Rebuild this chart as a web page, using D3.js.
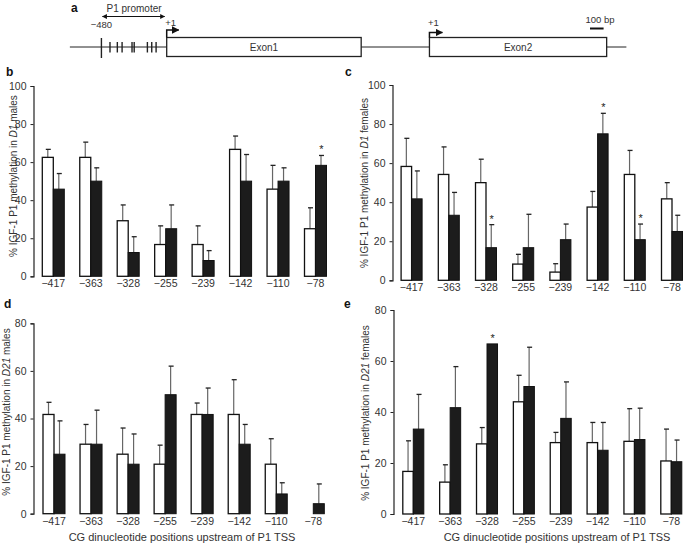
<!DOCTYPE html>
<html><head><meta charset="utf-8">
<script src="https://cdn.jsdelivr.net/npm/d3@7"></script>
<style>
body{margin:0;background:#fff}
text{font-family:"Liberation Sans",Arial,sans-serif;fill:#333}
</style>
</head><body><svg id="chart" width="685" height="544"></svg>
<script>
// ---- data ----
const positions = ["\u2212417","\u2212363","\u2212328","\u2212255","\u2212239","\u2212142","\u2212110","\u221278"];
const cpgSites = [-417,-363,-328,-255,-239,-142,-110,-78];

const d1MalesWhite    = [62.5,62.5,29.2,16.7,16.7,66.7,45.8,25];
const d1MalesWhiteSE  = [4.2,8,8.3,9.8,9.8,7,12.5,11];
const d1MalesBlack    = [45.8,50,12.5,25,8.3,50,50,58.3];
const d1MalesBlackSE  = [8.2,7,8.3,12.5,5.2,14,7,5.2];
const d1MalesStars    = [7];

const d1FemalesWhite   = [58.3,54.2,50,8.3,4.2,37.5,54.2,41.7];
const d1FemalesWhiteSE = [14.4,14.1,12,5,4.3,8,12.3,8.3];
const d1FemalesBlack   = [41.7,33.3,16.7,16.7,20.8,75,20.8,25];
const d1FemalesBlackSE = [14.3,11.7,11.8,17.1,8,10.5,8,8.3];
const d1FemalesStars   = [2,5,6];

const d21MalesWhite   = [41.7,29.2,25,20.8,41.7,41.7,20.8,0];
const d21MalesWhiteSE = [5.1,8.3,11,8,4.8,14.6,10.7,0];
const d21MalesBlack   = [25,29.2,20.8,50,41.7,29.2,8.3,4.2];
const d21MalesBlackSE = [14,14.3,12.7,12,11.1,8.3,4.7,8.3];
const d21MalesStars   = [];

const d21FemalesWhite   = [16.7,12.5,27.5,44,28,28,28.5,20.8];
const d21FemalesWhiteSE = [12,6.8,6.4,10.4,4,7.9,12.8,12.5];
const d21FemalesBlack   = [33.3,41.7,66.7,50,37.5,25,29.2,20.5];
const d21FemalesBlackSE = [13.6,16.1,0,15.4,14.3,10.9,12.3,8.5];
const d21FemalesStars   = [2];

const ticks100 = [0,20,40,60,80,100];
const ticks80  = [0,20,40,60,80];

const svg = d3.select("#chart");

// ---- panel a: gene diagram ----
(function(){
  const bp = d3.scaleLinear().domain([0,100]).range([166.7,180.3]);
  const g = svg.append("g");
  const yLine = 47;
  g.append("line").attr("x1",bp(-712)).attr("x2",bp(3380)).attr("y1",yLine).attr("y2",yLine).attr("stroke","#222").attr("stroke-width",1);
  g.append("line").attr("x1",bp(-480)).attr("x2",bp(-480)).attr("y1",38).attr("y2",58).attr("stroke","#222").attr("stroke-width",1.4);
  g.selectAll(".cpg").data(cpgSites).join("line")
    .attr("x1",d=>bp(d)).attr("x2",d=>bp(d)).attr("y1",42).attr("y2",52.5)
    .attr("stroke","#222").attr("stroke-width",1.4);
  const exons = [{s:0,e:1430,n:"Exon1"},{s:1932,e:3235,n:"Exon2"}];
  exons.forEach(ex=>{
    g.append("rect").attr("x",bp(ex.s)).attr("y",37.5).attr("width",bp(ex.e)-bp(ex.s)).attr("height",19)
      .attr("fill","#fff").attr("stroke","#222").attr("stroke-width",1.3);
    g.append("text").attr("x",(bp(ex.s)+bp(ex.e))/2).attr("y",50.5).attr("text-anchor","middle").attr("font-size",10).text(ex.n);
  });
  const defs = svg.append("defs");
  defs.append("marker").attr("id","ah").attr("viewBox","0 0 10 10").attr("refX",9).attr("refY",5)
    .attr("markerWidth",5).attr("markerHeight",5).attr("orient","auto-start-reverse")
    .append("path").attr("d","M0,0L10,5L0,10z").attr("fill","#111");
  // TSS arrows
  [[0,30,12],[1932,32.5,13]].forEach(([s,top,len])=>{
    g.append("path").attr("d",`M${bp(s)},37.5V${top}H${bp(s)+len}`).attr("fill","none").attr("stroke","#111")
      .attr("stroke-width",1.5).attr("marker-end","url(#ah)");
  });
  g.append("text").attr("x",bp(0)+4).attr("y",25.5).attr("text-anchor","middle").attr("font-size",9.5).text("+1");
  g.append("text").attr("x",bp(1932)+4).attr("y",26).attr("text-anchor","middle").attr("font-size",9.5).text("+1");
  g.append("text").attr("x",bp(-480)).attr("y",28).attr("text-anchor","middle").attr("font-size",9.5).text("\u2212480");
  g.append("line").attr("x1",bp(-480)+1).attr("x2",bp(0)-2).attr("y1",16.5).attr("y2",16.5).attr("stroke","#111")
    .attr("stroke-width",1).attr("marker-start","url(#ah)").attr("marker-end","url(#ah)");
  g.append("text").attr("x",(bp(-480)+bp(0))/2).attr("y",12).attr("text-anchor","middle").attr("font-size",10).text("P1 promoter");
  g.append("text").attr("x",600).attr("y",23).attr("text-anchor","middle").attr("font-size",9.5).text("100 bp");
  g.append("line").attr("x1",590).attr("x2",590+bp(100)-bp(0)).attr("y1",28.5).attr("y2",28.5).attr("stroke","#111").attr("stroke-width",2);
  g.append("text").attr("x",71).attr("y",12).attr("font-size",12).attr("font-weight","bold").style("fill","#111").text("a");
})();

// ---- bar panels ----
function panel(cfg){
  const g = svg.append("g");
  const x = d3.scalePoint().domain(positions).range([cfg.x0,cfg.x1]);
  const y = d3.scaleLinear().domain([0,cfg.max]).range([cfg.yb,cfg.yt]);
  const bw = cfg.bw;
  const yAxis = d3.axisLeft(y).tickValues(cfg.ticks).tickSize(3).tickPadding(4);
  const ag = g.append("g").attr("transform",`translate(${cfg.ax},0)`).call(yAxis);
  ag.select(".domain").attr("stroke","#222").attr("stroke-width",1.2);
  ag.selectAll(".tick line").attr("stroke","#222");
  ag.selectAll("text").attr("font-size",10.5).style("fill","#333").attr("font-family","Liberation Sans, Arial, sans-serif");
  // x labels
  g.selectAll(".xl").data(positions).join("text")
    .attr("x",d=>x(d)).attr("y",cfg.yb+11).attr("text-anchor","middle").attr("font-size",10.5).text(d=>d);
  const rows = positions.map((p,i)=>({p,i,w:cfg.white[i],ws:cfg.whiteSE[i],b:cfg.black[i],bs:cfg.blackSE[i]}));
  // error bars (white)
  rows.filter(r=>r.w>0).forEach(r=>{
    const cx = x(r.p)-bw/2;
    g.append("line").attr("x1",cx).attr("x2",cx).attr("y1",y(r.w)).attr("y2",y(r.w+r.ws)).attr("stroke","#666").attr("stroke-width",1.2);
    g.append("line").attr("x1",cx-2).attr("x2",cx+3).attr("y1",y(r.w+r.ws)).attr("y2",y(r.w+r.ws)).attr("stroke","#222").attr("stroke-width",1.3);
  });
  rows.filter(r=>r.b>0 && r.bs>0).forEach(r=>{
    const cx = x(r.p)+bw/2;
    g.append("line").attr("x1",cx).attr("x2",cx).attr("y1",y(r.b)).attr("y2",y(r.b+r.bs)).attr("stroke","#666").attr("stroke-width",1.2);
    g.append("line").attr("x1",cx-2).attr("x2",cx+3).attr("y1",y(r.b+r.bs)).attr("y2",y(r.b+r.bs)).attr("stroke","#222").attr("stroke-width",1.3);
  });
  g.selectAll(".wb").data(rows.filter(r=>r.w>0)).join("rect")
    .attr("x",r=>x(r.p)-bw).attr("y",r=>y(r.w)).attr("width",bw).attr("height",r=>y(0)-y(r.w))
    .attr("fill","#fff").attr("stroke","#111").attr("stroke-width",1.3);
  g.selectAll(".bb").data(rows.filter(r=>r.b>0)).join("rect")
    .attr("x",r=>x(r.p)).attr("y",r=>y(r.b)).attr("width",bw).attr("height",r=>y(0)-y(r.b))
    .attr("fill","#1c1c1c").attr("stroke","#111").attr("stroke-width",1);
  g.selectAll(".st").data(cfg.stars).join("text")
    .attr("x",i=>x(positions[i])+bw/2+0.5).attr("y",i=>y(cfg.black[i]+cfg.blackSE[i])-2)
    .attr("text-anchor","middle").attr("font-size",11).style("fill","#222").text("*");
  // y label
  const lab = g.append("text").attr("transform",`translate(${cfg.lx},${cfg.ly}) rotate(-90)`)
    .attr("text-anchor","middle").attr("font-size",10);
  lab.append("tspan").text("% IGF-1 P1 methylation in ");
  lab.append("tspan").attr("font-style","italic").text(cfg.strain);
  lab.append("tspan").text(" " + cfg.sex);
  g.append("text").attr("x",cfg.px).attr("y",cfg.py).attr("font-size",12).attr("font-weight","bold").style("fill","#111").text(cfg.letter);
  if(cfg.xtitle){
    g.append("text").attr("x",cfg.xtx).attr("y",541).attr("text-anchor","middle").attr("font-size",11).text("CG dinucleotide positions upstream of P1 TSS");
  }
}

panel({letter:"b",px:6,py:76,ax:33.5,x0:53.3,x1:315.5,bw:11,max:100,yt:86,yb:276.3,ticks:ticks100,
  white:d1MalesWhite,whiteSE:d1MalesWhiteSE,black:d1MalesBlack,blackSE:d1MalesBlackSE,stars:d1MalesStars,
  strain:"D1",sex:"males",lx:17,ly:176});
panel({letter:"c",px:345,py:76,ax:392.5,x0:411.6,x1:672,bw:10.5,max:100,yt:85,yb:280.3,ticks:ticks100,
  white:d1FemalesWhite,whiteSE:d1FemalesWhiteSE,black:d1FemalesBlack,blackSE:d1FemalesBlackSE,stars:d1FemalesStars,
  strain:"D1",sex:"females",lx:368,ly:183});
panel({letter:"d",px:4,py:308,ax:33.5,x0:54,x1:313.3,bw:11,max:80,yt:323.3,yb:513.7,ticks:ticks80,
  white:d21MalesWhite,whiteSE:d21MalesWhiteSE,black:d21MalesBlack,blackSE:d21MalesBlackSE,stars:d21MalesStars,
  strain:"D21",sex:"males",lx:10,ly:412,xtitle:true,xtx:182});
panel({letter:"e",px:344,py:308,ax:393.5,x0:413.3,x1:671.3,bw:10.5,max:80,yt:310,yb:514,ticks:ticks80,
  white:d21FemalesWhite,whiteSE:d21FemalesWhiteSE,black:d21FemalesBlack,blackSE:d21FemalesBlackSE,stars:d21FemalesStars,
  strain:"D21",sex:"females",lx:369,ly:413,xtitle:true,xtx:557});
</script></body></html>
